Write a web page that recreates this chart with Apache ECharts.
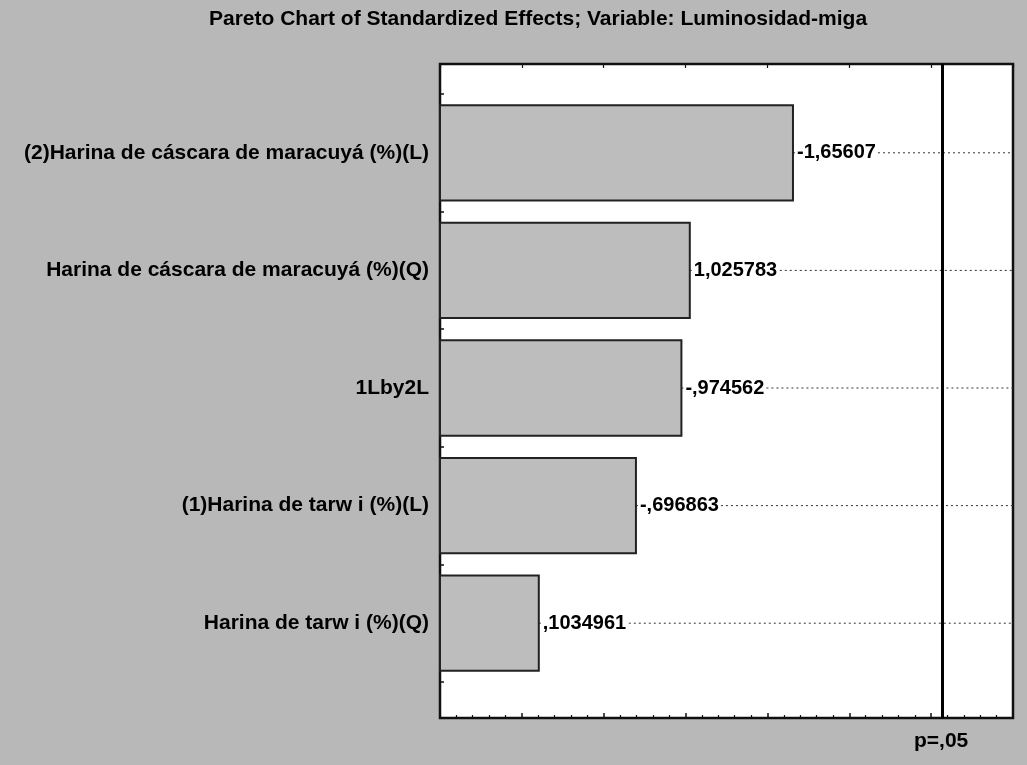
<!DOCTYPE html>
<html>
<head>
<meta charset="utf-8">
<script src="https://cdn.jsdelivr.net/npm/echarts@6/dist/echarts.min.js"></script>
<style>
html,body{margin:0;padding:0;background:#b8b8b8;}
#c{width:1027px;height:765px;}
</style>
</head>
<body>
<div id="c"></div>
<script>
const TITLE = 'Pareto Chart of Standardized Effects; Variable: Luminosidad-miga';
const categories = [
  '(2)Harina de cáscara de maracuyá (%)(L)',
  'Harina de cáscara de maracuyá (%)(Q)',
  '1Lby2L',
  '(1)Harina de tarw i (%)(L)',
  'Harina de tarw i (%)(Q)'
];
const effects = [-1.65607, 1.025783, -0.974562, -0.696863, 0.1034961];
const CRIT = 2.5706;
const CRIT_LABEL = 'p=,05';
const X_MIN = -0.5, X_MAX = 3.0, X_INTERVAL = 0.5;

const FONT = 'Liberation Sans, Arial, sans-serif';

function fmt(v) {
  let s = String(Math.abs(v)).replace('.', ',');
  if (s.startsWith('0,')) s = s.slice(1);
  return (v < 0 ? '-' : '') + s;
}

const chart = echarts.init(document.getElementById('c'), null, {renderer: 'canvas'});

const barData = effects.map((v, i) => [i, Math.abs(v)]);

const tickAxis = (pos) => ({
  type: 'value', gridIndex: 0, position: pos, min: X_MIN, max: X_MAX, interval: X_INTERVAL,
  axisLine: {show: false, onZero: false},
  axisTick: {show: true, inside: true, length: 5, lineStyle: {color: '#111', width: 1.5}},
  minorTick: {show: true, splitNumber: 5, length: 3, lineStyle: {color: '#111', width: 1.2}},
  axisLabel: {show: false},
  splitLine: {show: false}
});

const option = {
  backgroundColor: '#b8b8b8',
  animation: false,
  title: {
    text: TITLE, left: 533, top: 4, textAlign: 'center',
    textStyle: {fontFamily: FONT, fontWeight: 'bold', fontSize: 21, color: '#000'}
  },
  grid: [
    {left: 440, right: 14, top: 64, bottom: 47, show: true, backgroundColor: '#ffffff',
     borderColor: '#111', borderWidth: 2.5, containLabel: false},
    {left: 440, right: 14, top: 94, bottom: 83, show: false, containLabel: false}
  ],
  xAxis: [
    tickAxis('bottom'),
    Object.assign(tickAxis('top'), {axisTick: {show: true, inside: true, length: 4, lineStyle: {color: '#111', width: 1.2}}, minorTick: {show: false}}),
    {type: 'value', gridIndex: 1, min: X_MIN, max: X_MAX, interval: X_INTERVAL, show: false,
     axisLine: {onZero: false}}
  ],
  yAxis: [
    {type: 'value', gridIndex: 0, min: 0, max: 1, show: false, axisLine: {onZero: false}},
    {type: 'category', gridIndex: 1, data: categories, inverse: true, position: 'left',
     axisLine: {show: false, onZero: false},
     axisTick: {show: true, inside: true, length: 4, lineStyle: {color: '#111', width: 1.5}},
     axisLabel: {margin: 11, fontFamily: FONT, fontWeight: 'bold', fontSize: 21, color: '#000'},
     splitLine: {show: false}}
  ],
  graphic: [
    {type: 'text', left: 914, top: 731,
     style: {text: CRIT_LABEL, font: 'bold 21px ' + FONT, fill: '#000'}}
  ],
  series: [
    {
      type: 'custom', xAxisIndex: 2, yAxisIndex: 1, data: barData,
      encode: {x: 1, y: 0}, z: 3,
      renderItem: function (params, api) {
        const idx = api.value(0);
        const v = api.value(1);
        const start = api.coord([X_MIN, idx]);
        const end = api.coord([v, idx]);
        const right = api.coord([X_MAX, idx]);
        const h = api.size([0, 1])[1] * 0.81;
        return {
          type: 'group',
          children: [
            {type: 'line', shape: {x1: end[0], y1: end[1], x2: right[0], y2: right[1]},
             style: {stroke: '#333', lineWidth: 1, lineDash: [2, 3]}},
            {type: 'rect', shape: {x: start[0], y: start[1] - h / 2, width: end[0] - start[0], height: h},
             style: {fill: '#bdbdbd', stroke: '#222', lineWidth: 2}},
            {type: 'text', x: end[0] + 3, y: end[1],
             style: {text: fmt(effects[params.dataIndex]), font: 'bold 20px ' + FONT, fill: '#000',
                     verticalAlign: 'middle', align: 'left', backgroundColor: '#ffffff', padding: [1, 1]}}
          ]
        };
      }
    },
    {
      type: 'line', xAxisIndex: 0, yAxisIndex: 0, data: [], z: 5,
      markLine: {
        silent: true, symbol: 'none', animation: false,
        label: {show: false},
        lineStyle: {color: '#000', width: 3, type: 'solid'},
        data: [{xAxis: CRIT}]
      }
    }
  ]
};
chart.setOption(option);
</script>
</body>
</html>
